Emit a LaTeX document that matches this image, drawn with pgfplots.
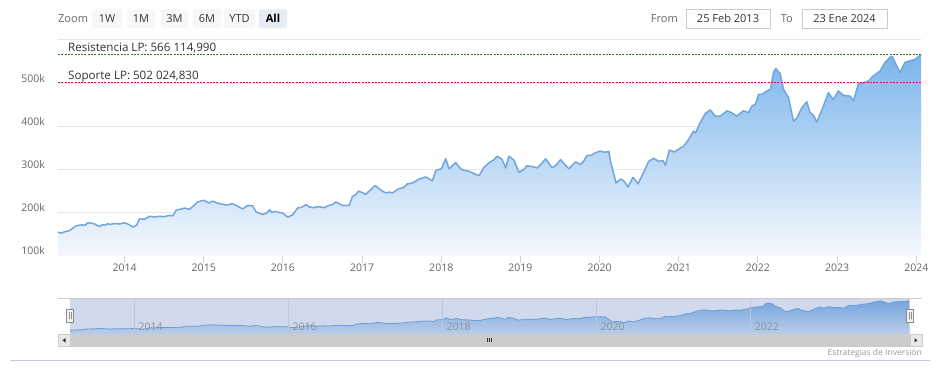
\documentclass[border=0pt]{standalone}
\usepackage{pgfplots}
\pgfplotsset{compat=1.18}
\usepackage{pgfplotstable}
\usepackage{fontspec}
\setmainfont{Open Sans}
\definecolor{areablue}{RGB}{124,181,236}
\definecolor{areabottom}{RGB}{246,249,253}
\definecolor{lineblue}{RGB}{112,166,222}
\definecolor{gridgray}{RGB}{230,230,230}
\definecolor{navgrid}{RGB}{191,200,219}
\definecolor{axisblue}{RGB}{204,214,235}
\definecolor{labelgray}{RGB}{102,102,102}
\definecolor{textdark}{RGB}{51,51,51}
\definecolor{resgreen}{RGB}{40,125,45}
\definecolor{supred}{RGB}{200,30,60}
\definecolor{maskblue}{RGB}{102,133,194}
\definecolor{btngray}{RGB}{247,247,247}
\definecolor{btnsel}{RGB}{230,235,245}
\definecolor{bordergray}{RGB}{204,204,204}
\definecolor{scrollgray}{RGB}{204,204,204}
\definecolor{scrollbtn}{RGB}{232,232,232}
\definecolor{credgray}{RGB}{153,153,153}
\definecolor{sepline}{RGB}{200,200,220}
\definecolor{navlabel}{RGB}{140,145,158}

\pgfplotstableread{
year value
2013.159 155000
2013.200 153000
2013.243 156000
2013.306 159000
2013.350 165000
2013.391 170000
2013.458 172000
2013.500 171000
2013.537 177000
2013.580 176000
2013.622 174000
2013.685 168000
2013.720 173000
2013.748 171000
2013.790 175000
2013.811 173000
2013.874 175000
2013.937 174000
2014.000 177000
2014.063 172000
2014.105 167000
2014.151 171000
2014.189 186000
2014.252 185000
2014.280 188000
2014.315 192000
2014.380 190000
2014.441 192000
2014.500 191000
2014.567 194000
2014.610 193000
2014.652 206000
2014.700 208000
2014.757 211000
2014.820 208000
2014.870 216000
2014.924 225000
2015.000 229000
2015.040 225000
2015.072 223000
2015.113 227000
2015.180 222000
2015.282 218000
2015.366 221000
2015.420 216000
2015.492 209000
2015.555 217000
2015.618 216000
2015.661 202000
2015.744 196000
2015.800 200000
2015.829 207000
2015.860 201000
2015.892 203000
2016.001 199000
2016.059 190000
2016.122 195000
2016.185 211000
2016.240 213000
2016.291 219000
2016.330 214000
2016.375 212000
2016.450 214000
2016.522 212000
2016.580 217000
2016.627 219000
2016.670 225000
2016.753 217000
2016.837 217000
2016.879 238000
2016.920 242000
2016.955 250000
2017.000 247000
2017.048 243000
2017.100 252000
2017.165 263000
2017.257 250000
2017.300 246000
2017.342 248000
2017.383 246000
2017.430 252000
2017.468 256000
2017.520 258000
2017.573 267000
2017.636 269000
2017.720 278000
2017.805 283000
2017.888 274000
2017.931 298000
2018.001 302000
2018.057 325000
2018.098 302000
2018.183 316000
2018.250 301000
2018.300 298000
2018.351 296000
2018.420 290000
2018.477 286000
2018.540 305000
2018.603 316000
2018.660 322000
2018.707 331000
2018.767 324000
2018.813 304000
2018.855 331000
2018.918 322000
2018.981 294000
2019.040 300000
2019.086 309000
2019.150 307000
2019.212 304000
2019.260 312000
2019.318 325000
2019.401 304000
2019.450 310000
2019.507 323000
2019.560 312000
2019.612 302000
2019.696 318000
2019.759 312000
2019.800 320000
2019.842 333000
2019.890 333000
2019.948 339000
2020.011 343000
2020.066 340000
2020.116 342000
2020.137 320000
2020.208 269000
2020.264 278000
2020.305 274000
2020.359 260000
2020.422 282000
2020.486 267000
2020.557 294000
2020.620 319000
2020.683 326000
2020.747 319000
2020.801 321000
2020.831 310000
2020.881 345000
2020.948 341000
2021.020 350000
2021.062 354000
2021.125 370000
2021.188 389000
2021.213 385000
2021.272 409000
2021.335 430000
2021.398 438000
2021.462 424000
2021.528 424000
2021.608 436000
2021.667 432000
2021.734 424000
2021.818 436000
2021.881 432000
2021.923 447000
2021.970 452000
2022.008 474000
2022.049 474000
2022.112 482000
2022.159 486000
2022.197 525000
2022.226 534000
2022.281 522000
2022.323 486000
2022.386 467000
2022.449 412000
2022.491 419000
2022.554 443000
2022.617 457000
2022.659 432000
2022.701 426000
2022.743 410000
2022.785 428000
2022.827 447000
2022.890 478000
2022.953 462000
2023.016 482000
2023.079 472000
2023.164 470000
2023.206 459000
2023.269 498000
2023.332 501000
2023.395 505000
2023.458 517000
2023.542 528000
2023.605 548000
2023.668 560000
2023.697 562000
2023.752 540000
2023.794 525000
2023.857 548000
2023.921 552000
2023.983 555000
2024.060 566000
}\prices

\begin{document}
\begin{tikzpicture}[x=1pt,y=1pt]
\useasboundingbox (0,0) rectangle (941,374);
\fill[white] (0,0) rectangle (941,374);

% ---- range selector ----
\tikzset{ui/.style={font=\fontsize{11}{13}\selectfont, inner sep=0pt}}
\node[ui, anchor=base west, text=labelgray] at (58,351) {Zoom};
\foreach \xa/\xb/\lab in {92/122/1W,127/155/1M,161/188/3M,193/221/6M,224/255/YTD}{
  \fill[btngray, rounded corners=2pt] (\xa,345.7) rectangle (\xb,364.7);
  \node[ui, anchor=base, text=textdark] at ({(\xa+\xb)/2},351) {\lab};
}
\fill[btnsel, rounded corners=2pt] (259,345.7) rectangle (287,364.7);
\node[ui, anchor=base, text=black] at (273,351) {\bfseries All};

\node[ui, anchor=base east, text=labelgray] at (678,351) {From};
\draw[bordergray, fill=white] (686,345.7) rectangle (770,364.7);
\node[ui, anchor=base, text=textdark] at (728,351) {25 Feb 2013};
\node[ui, anchor=base east, text=labelgray] at (793,351) {To};
\draw[bordergray, fill=white] (802,345.7) rectangle (887,364.7);
\node[ui, anchor=base, text=textdark] at (844.5,351) {23 Ene 2024};

% ---- main chart ----
\begin{axis}[
  at={(58pt,118pt)}, anchor=south west,
  scale only axis, width=863pt, height=216pt,
  xmin=2013.159, xmax=2024.06,
  ymin=100000, ymax=600000,
  axis x line*=bottom, axis y line*=left,
  y axis line style={draw=none},
  x axis line style={draw=axisblue, line width=1pt, -},
  xtick={2014,2015,2016,2017,2018,2019,2020,2021,2022,2023,2024},
  xticklabels={2014,2015,2016,2017,2018,2019,2020,2021,2022,2023,2024},
  ytick={100000,200000,300000,400000,500000,600000},
  yticklabels={100k,200k,300k,400k,500k,{}},
  scaled y ticks=false,
  ymajorgrids,
  major grid style={draw=gridgray, line width=1pt},
  ytick style={draw=none},
  xtick style={draw=axisblue, line width=1pt},
  major tick length=7pt,
  tick align=outside,
  xticklabel style={text=labelgray, font=\fontsize{10.5}{12}\selectfont, inner sep=0pt, yshift=-1pt},
  yticklabel style={text=labelgray, font=\fontsize{10.5}{12}\selectfont, anchor=east, inner sep=0pt, xshift=-6pt, yshift=5pt},
  clip=false,
]
\addplot[draw=none, top color=areablue, bottom color=areabottom] table[x=year,y=value]{\prices} -- (axis cs:2024.06,100000) -- (axis cs:2013.159,100000) -- cycle;
\addplot[lineblue, line width=1.5pt, line join=round] table[x=year,y=value]{\prices};
\addplot[resgreen, line width=0.8pt, dash pattern=on 2pt off 1.3pt] coordinates {(2013.159,566114.99) (2024.06,566114.99)};
\addplot[supred, line width=0.8pt, dash pattern=on 2pt off 1.3pt] coordinates {(2013.159,502024.83) (2024.06,502024.83)};
\node[anchor=base west, inner sep=0pt, text=textdark, font=\fontsize{11.6}{13}\selectfont, yshift=3.3pt] at (axis cs:2013.285,566114.99) {Resistencia LP: 566 114,990};
\node[anchor=base west, inner sep=0pt, text=textdark, font=\fontsize{11.6}{13}\selectfont, yshift=3pt] at (axis cs:2013.285,502024.83) {Soporte LP: 502 024,830};
\end{axis}

% ---- navigator ----
\begin{axis}[
  at={(70pt,40pt)}, anchor=south west,
  scale only axis, width=840pt, height=35.7pt,
  xmin=2013.165, xmax=2024.07,
  ymin=100000, ymax=600000,
  axis on top,
  axis line style={draw=none},
  xtick={2014,2016,2018,2020,2022},
  xticklabels={2014,2016,2018,2020,2022},
  ytick=\empty,
  xmajorgrids,
  major grid style={draw=navgrid, line width=0.8pt},
  tick style={draw=none},
  xticklabel style={text=navlabel, font=\fontsize{10.5}{12}\selectfont, anchor=south west, inner sep=0pt, xshift=4pt, yshift=3pt},
  clip=true,
]
\addplot[draw=none, top color=areablue, bottom color=areablue!25!white] table[x=year,y=value]{\prices} -- (axis cs:2024.06,100000) -- (axis cs:2013.159,100000) -- cycle;
\addplot[lineblue, line width=0.8pt] table[x=year,y=value]{\prices};
\fill[maskblue, fill opacity=0.3] (rel axis cs:0,0) rectangle (rel axis cs:1,1);
\end{axis}
\draw[bordergray, line width=0.6pt] (58,75.7) -- (922,75.7);

% handles
\foreach \hx in {70,910}{
  \filldraw[fill=white!95!black, draw=black!45, line width=0.6pt] (\hx-3.5,51.3) rectangle (\hx+3.5,65);
  \draw[black!45, line width=0.5pt] (\hx-1,54.5) -- (\hx-1,61.8);
  \draw[black!45, line width=0.5pt] (\hx+1,54.5) -- (\hx+1,61.8);
}

% scrollbar
\fill[scrollgray] (70,27.3) rectangle (910,40);
\filldraw[fill=scrollbtn, draw=bordergray, line width=0.6pt] (58,27.3) rectangle (70,40);
\filldraw[fill=scrollbtn, draw=bordergray, line width=0.6pt] (910,27.3) rectangle (922,40);
\fill[textdark] (62.5,33.65) -- (65.5,35.9) -- (65.5,31.4) -- cycle;
\fill[textdark] (917.5,33.65) -- (914.5,35.9) -- (914.5,31.4) -- cycle;
\foreach \gx in {487.5,489.5,491.5}{\draw[textdark, line width=0.6pt] (\gx,31.5) -- (\gx,36);}

% separator and credit
\draw[sepline, line width=0.8pt] (10,14) -- (930,14);
\node[anchor=base east, inner sep=0pt, text=credgray, font=\fontsize{8.5}{9}\selectfont] at (922,18.4) {Estrategias de Inversión};
\end{tikzpicture}
\end{document}
